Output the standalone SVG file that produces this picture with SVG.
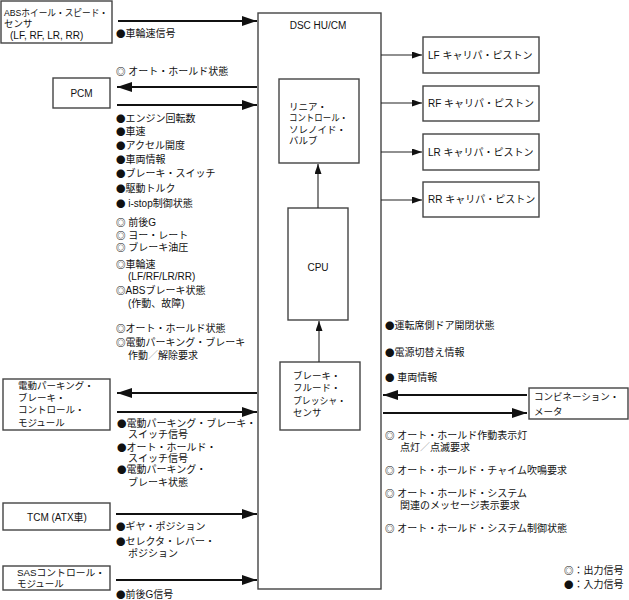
<svg xmlns="http://www.w3.org/2000/svg" width="629" height="600" viewBox="0 0 629 600">
<style>
text{font-family:"Liberation Sans","Noto Sans CJK JP",sans-serif;font-size:10px;fill:#111}
.bt{font-size:9.5px}
.b{font-family:"Noto Sans CJK JP",sans-serif;font-size:9.5px}
.o{font-family:"Noto Sans CJK JP",sans-serif;font-size:9.5px;font-weight:bold}
.box{fill:#fff;stroke:#444;stroke-width:1.4}
.thick{stroke:#111;stroke-width:2.2;fill:none}
.thin{stroke:#222;stroke-width:1.1;fill:none}
.mid{text-anchor:middle}
.sl{fill:#999}
</style>
<defs>
<marker id="ah" markerUnits="userSpaceOnUse" markerWidth="16" markerHeight="11" refX="15" refY="5" orient="auto"><path d="M0,0 L15,5 L0,10 z" fill="#111"/></marker>
<marker id="as" markerUnits="userSpaceOnUse" markerWidth="11" markerHeight="8" refX="10" refY="3.5" orient="auto"><path d="M0,0 L10,3.5 L0,7 z" fill="#111"/></marker>
</defs>
<g id="dsc"><rect class="box" x="258" y="13" width="123" height="576"/><text class="mid" x="318" y="28.5">DSC HU/CM</text></g>
<g id="abs"><rect class="box" x="1" y="1" width="111" height="42"/><text class="bt" x="4" y="15.5" textLength="104" lengthAdjust="spacingAndGlyphs">ABSホイール・スピード・</text><text class="bt" x="4" y="26.5">センサ</text><text x="10" y="38.5">(LF, RF, LR, RR)</text></g>
<g id="pcm"><rect class="box" x="53" y="78" width="57" height="30"/><text class="mid" x="81.5" y="97">PCM</text></g>
<g id="epb"><rect class="box" x="3" y="379" width="107" height="51"/><text class="bt" x="18" y="388.5">電動パーキング・</text><text class="bt" x="18" y="400.5">ブレーキ・</text><text class="bt" x="18" y="413">コントロール・</text><text class="bt" x="18" y="425.5">モジュール</text></g>
<g id="tcm"><rect class="box" x="3" y="503" width="107" height="27"/><text class="mid" x="57" y="520.5">TCM (ATX車)</text></g>
<g id="sas"><rect class="box" x="3" y="566" width="107" height="24"/><text class="bt" x="17" y="575.5" textLength="88" lengthAdjust="spacingAndGlyphs">SASコントロール・</text><text class="bt" x="17" y="586.5">モジュール</text></g>
<g id="lf"><rect class="box" x="423" y="37" width="116" height="36"/><text x="428" y="59">LF キャリパ・ピストン</text></g>
<g id="rf"><rect class="box" x="423" y="86" width="116" height="35"/><text x="428" y="107">RF キャリパ・ピストン</text></g>
<g id="lr"><rect class="box" x="423" y="134" width="116" height="36"/><text x="428" y="155.5">LR キャリパ・ピストン</text></g>
<g id="rr"><rect class="box" x="423" y="182" width="116" height="35"/><text x="428" y="203">RR キャリパ・ピストン</text></g>
<g id="solenoid"><rect class="box" x="279" y="79" width="80" height="84"/><text class="bt" x="289" y="109.5">リニア・</text><text class="bt" x="289" y="121" textLength="59" lengthAdjust="spacingAndGlyphs">コントロール・</text><text class="bt" x="289" y="132.5">ソレノイド・</text><text class="bt" x="289" y="144">バルブ</text></g>
<g id="cpu"><rect class="box" x="288" y="208" width="60" height="112"/><text class="mid" x="318" y="270.5">CPU</text></g>
<g id="sensor"><rect class="box" x="280" y="362" width="80" height="68"/><text class="bt" x="293" y="378.5">ブレーキ・</text><text class="bt" x="293" y="391">フルード・</text><text class="bt" x="293" y="403.5" textLength="53" lengthAdjust="spacingAndGlyphs">プレッシャ・</text><text class="bt" x="293" y="416">センサ</text></g>
<g id="meter"><rect class="box" x="529" y="388" width="99" height="31"/><text class="bt" x="534" y="399.5">コンビネーション・</text><text class="bt" x="534" y="414.5">メータ</text></g>
<g id="connectors">
<line class="thick" x1="118" y1="21" x2="257" y2="21" marker-end="url(#ah)"/>
<line class="thick" x1="257" y1="87" x2="117" y2="87" marker-end="url(#ah)"/>
<line class="thick" x1="117" y1="105" x2="257" y2="105" marker-end="url(#ah)"/>
<line class="thick" x1="257" y1="393" x2="117" y2="393" marker-end="url(#ah)"/>
<line class="thick" x1="117" y1="412" x2="257" y2="412" marker-end="url(#ah)"/>
<line class="thick" x1="116" y1="514" x2="257" y2="514" marker-end="url(#ah)"/>
<line class="thick" x1="116" y1="580" x2="257" y2="580" marker-end="url(#ah)"/>
<line class="thick" x1="527" y1="395" x2="383" y2="395" marker-end="url(#ah)"/>
<line class="thick" x1="383" y1="413" x2="527" y2="413" marker-end="url(#ah)"/>
<line class="thin" x1="381" y1="55" x2="422" y2="55" marker-end="url(#as)"/>
<line class="thin" x1="381" y1="103" x2="422" y2="103" marker-end="url(#as)"/>
<line class="thin" x1="381" y1="152" x2="422" y2="152" marker-end="url(#as)"/>
<line class="thin" x1="381" y1="200" x2="422" y2="200" marker-end="url(#as)"/>
<line class="thin" x1="318" y1="208" x2="318" y2="164" marker-end="url(#as)"/>
<line class="thin" x1="319" y1="362" x2="319" y2="321" marker-end="url(#as)"/>
</g>
<g id="labels">
<text x="116" y="36.5"><tspan class="b">●</tspan>車輪速信号</text>
<text x="116" y="74.5"><tspan class="o">◎</tspan> オート・ホールド状態</text>
<text x="116" y="121.5"><tspan class="b">●</tspan>エンジン回転数</text>
<text x="116" y="134.5"><tspan class="b">●</tspan>車速</text>
<text x="116" y="148.5"><tspan class="b">●</tspan>アクセル開度</text>
<text x="116" y="162.5"><tspan class="b">●</tspan>車両情報</text>
<text x="116" y="176.5"><tspan class="b">●</tspan>ブレーキ・スイッチ</text>
<text x="116" y="191.5"><tspan class="b">●</tspan>駆動トルク</text>
<text x="116" y="206.5"><tspan class="b">●</tspan> i-stop制御状態</text>
<text x="116" y="225.5"><tspan class="o">◎</tspan> 前後G</text>
<text x="116" y="238.5"><tspan class="o">◎</tspan> ヨー・レート</text>
<text x="116" y="251"><tspan class="o">◎</tspan> ブレーキ油圧</text>
<text x="116" y="267.5"><tspan class="o">◎</tspan>車輪速</text>
<text x="128" y="279.5">(LF/RF/LR/RR)</text>
<text x="116" y="293.5"><tspan class="o">◎</tspan>ABSブレーキ状態</text>
<text x="128" y="306.5">(作動、故障)</text>
<text x="116" y="331.5"><tspan class="o">◎</tspan>オート・ホールド状態</text>
<text x="116" y="345.5"><tspan class="o">◎</tspan>電動パーキング・ブレーキ</text>
<text x="128" y="358.5">作動<tspan class="sl">／</tspan>解除要求</text>
<text x="117" y="426.5"><tspan class="b">●</tspan>電動パーキング・ブレーキ・</text>
<text x="128" y="437.5">スイッチ信号</text>
<text x="117" y="450.5"><tspan class="b">●</tspan>オート・ホールド・</text>
<text x="128" y="461.5">スイッチ信号</text>
<text x="117" y="472.5"><tspan class="b">●</tspan>電動パーキング・</text>
<text x="128" y="485.5">ブレーキ状態</text>
<text x="116" y="529.5"><tspan class="b">●</tspan>ギヤ・ポジション</text>
<text x="116" y="544.5"><tspan class="b">●</tspan>セレクタ・レバー・</text>
<text x="128" y="556.5">ポジション</text>
<text x="116" y="597.5"><tspan class="b">●</tspan>前後G信号</text>
<text x="385" y="328.5"><tspan class="b">●</tspan>運転席側ドア開閉状態</text>
<text x="385" y="355.5"><tspan class="b">●</tspan>電源切替え情報</text>
<text x="385" y="380.5"><tspan class="b">●</tspan> 車両情報</text>
<text x="385" y="438.5"><tspan class="o">◎</tspan> オート・ホールド作動表示灯</text>
<text x="400" y="450.5">点灯<tspan class="sl">／</tspan>点滅要求</text>
<text x="385" y="473.5"><tspan class="o">◎</tspan> オート・ホールド・チャイム吹鳴要求</text>
<text x="385" y="496.5"><tspan class="o">◎</tspan> オート・ホールド・システム</text>
<text x="400" y="508.5">関連のメッセージ表示要求</text>
<text x="385" y="531.5"><tspan class="o">◎</tspan> オート・ホールド・システム制御状態</text>
<text x="564" y="574"><tspan class="o">◎</tspan>：出力信号</text>
<text x="564" y="588"><tspan class="b">●</tspan>：入力信号</text>
</g>
</svg>
